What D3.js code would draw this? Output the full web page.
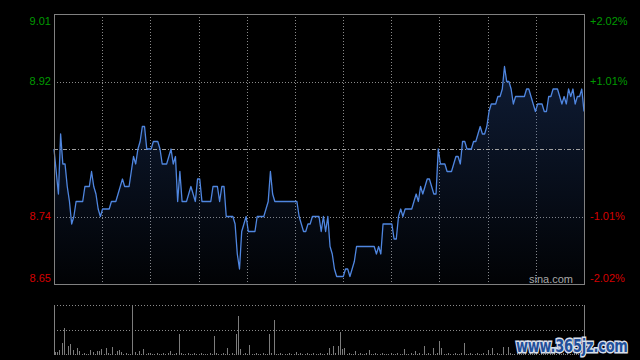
<!DOCTYPE html>
<html><head><meta charset="utf-8">
<script src="https://cdn.jsdelivr.net/npm/d3@7"></script>
<style>html,body{margin:0;padding:0;background:#000;}svg{display:block;}</style>
</head><body>
<script>
// ---- data ----
const prevClose = 8.83;
const priceTicks = [9.01, 8.92, 8.74, 8.65];
const pctLabels = ["+2.02%", "+1.01%", "-1.01%", "-2.02%"];
const prices = [
8.83,8.80,8.77,8.85,8.81,8.81,8.78,8.76,8.73,8.74,
8.76,8.76,8.76,8.76,8.78,8.78,8.78,8.80,8.78,8.77,
8.75,8.74,8.75,8.75,8.75,8.75,8.76,8.76,8.76,8.77,
8.78,8.79,8.78,8.78,8.78,8.80,8.82,8.81,8.83,8.84,
8.86,8.86,8.83,8.83,8.83,8.84,8.84,8.84,8.83,8.81,
8.81,8.81,8.82,8.83,8.81,8.82,8.76,8.80,8.76,8.76,
8.76,8.77,8.78,8.77,8.76,8.79,8.79,8.76,8.76,8.76,
8.76,8.76,8.78,8.78,8.78,8.76,8.78,8.78,8.74,8.74,
8.74,8.74,8.73,8.69,8.67,8.72,8.73,8.74,8.72,8.72,
8.72,8.72,8.74,8.74,8.74,8.74,8.75,8.76,8.80,8.77,
8.76,8.76,8.76,8.76,8.76,8.76,8.76,8.76,8.76,8.76,
8.76,8.74,8.73,8.72,8.72,8.73,8.73,8.74,8.74,8.74,
8.74,8.72,8.74,8.72,8.74,8.70,8.69,8.67,8.66,8.66,
8.66,8.66,8.67,8.67,8.66,8.67,8.68,8.70,8.70,8.70,
8.70,8.70,8.70,8.70,8.70,8.70,8.69,8.70,8.69,8.73,
8.73,8.73,8.73,8.73,8.71,8.71,8.74,8.75,8.74,8.75,
8.75,8.75,8.75,8.76,8.77,8.76,8.78,8.77,8.78,8.79,
8.79,8.78,8.77,8.77,8.83,8.81,8.81,8.81,8.80,8.80,
8.80,8.81,8.82,8.82,8.81,8.84,8.84,8.83,8.83,8.83,
8.84,8.84,8.85,8.86,8.85,8.85,8.86,8.88,8.89,8.89,
8.89,8.90,8.90,8.91,8.94,8.92,8.92,8.91,8.89,8.90,
8.90,8.90,8.90,8.90,8.91,8.91,8.90,8.89,8.88,8.89,
8.89,8.89,8.88,8.88,8.90,8.90,8.91,8.91,8.91,8.90,
8.89,8.90,8.89,8.91,8.90,8.91,8.89,8.90,8.90,8.91,8.88
];
const volumes = [
3,3,5,12,27,1,9,11,5,1,
7,4,1,2,1,1,5,3,1,4,
4,6,1,7,2,1,8,1,4,5,
3,1,2,1,1,50,3,1,4,1,
6,1,2,2,1,1,2,1,1,2,
1,2,4,1,1,2,21,2,1,1,
2,1,1,2,1,1,2,1,1,1,
2,1,19,2,1,1,2,1,7,1,
2,1,21,39,6,1,2,1,10,1,
1,2,1,1,2,1,1,21,2,35,
1,1,2,1,1,1,2,1,1,3,
1,2,1,1,2,1,1,2,1,1,
2,1,1,2,7,1,9,2,9,23,
6,7,1,2,1,1,4,1,2,1,
1,2,5,1,1,2,1,1,2,1,
1,1,2,1,1,2,1,1,6,1,
1,2,1,4,1,2,1,9,1,2,
1,7,1,2,14,7,1,1,2,1,
1,2,1,1,2,12,1,1,2,1,
1,2,1,1,2,1,5,1,7,1,
2,1,1,8,1,8,2,1,1,2,
3,1,1,2,1,4,1,1,2,1,
5,1,2,1,3,1,2,1,6,1,
2,1,4,1,1,2,5,1,1,3,1
];

// ---- layout ----
const W = 640, H = 360;
const L = 54, R = 584, T = 14, B = 284;
const VT = 305, VB = 355;
const svg = d3.select("body").append("svg").attr("width", W).attr("height", H)
  .style("background", "#000");

const x = d3.scaleLinear().domain([0, 240]).range([L, R]);
const y = d3.scaleLinear().domain([8.65, 9.01]).range([B, T]);
const yv = d3.scaleLinear().domain([0, 50]).range([VB, VT]);

const defs = svg.append("defs");
const grad = defs.append("linearGradient").attr("id", "fillg")
  .attr("gradientUnits", "userSpaceOnUse").attr("x1", 0).attr("y1", T).attr("x2", 0).attr("y2", B);
grad.append("stop").attr("offset", 0).attr("stop-color", "rgb(45,85,160)").attr("stop-opacity", 0.4);
grad.append("stop").attr("offset", 1).attr("stop-color", "rgb(45,85,160)").attr("stop-opacity", 0.03);

// vertical grid
const vgrid = d3.range(1, 11).map(k => L + k * (R - L) / 11);
svg.append("g").selectAll("line").data(vgrid).join("line")
  .attr("x1", d => Math.round(d) + 0.5).attr("x2", d => Math.round(d) + 0.5)
  .attr("y1", T).attr("y2", B)
  .attr("stroke", "#8a8a8a").attr("stroke-dasharray", "1,2");

// horizontal grid
svg.append("g").selectAll("line").data([8.92, 8.74]).join("line")
  .attr("x1", L).attr("x2", R)
  .attr("y1", d => Math.round(y(d)) + 0.5).attr("y2", d => Math.round(y(d)) + 0.5)
  .attr("stroke", "#8a8a8a").attr("stroke-dasharray", "1,2");

// area + line
const area = d3.area().x((d, i) => x(i)).y0(B).y1(d => y(d));
svg.append("path").datum(prices).attr("d", area).attr("fill", "url(#fillg)");

// prev close line
svg.append("line").attr("x1", L).attr("x2", R)
  .attr("y1", Math.round(y(prevClose)) + 0.5).attr("y2", Math.round(y(prevClose)) + 0.5)
  .attr("stroke", "#a0a0a0").attr("stroke-dasharray", "4,2,1,2");

const line = d3.line().x((d, i) => x(i)).y(d => y(d));
svg.append("path").datum(prices).attr("d", line)
  .attr("fill", "none").attr("stroke", "#4f86e0").attr("stroke-width", 1.3)
  .attr("stroke-linejoin", "round");

// main frame
svg.append("rect").attr("x", L + 0.5).attr("y", T + 0.5).attr("width", R - L).attr("height", B - T)
  .attr("fill", "none").attr("stroke", "#808080");

// price labels (left)
const colorOf = v => v > prevClose ? "#009a00" : "#d40000";
const clampY = v => Math.max(T + 7, Math.min(B - 6, y(v)));
const leftAxis = d3.axisLeft(y).tickValues(priceTicks).tickSize(0).tickPadding(0)
  .tickFormat(d3.format(".2f"));
const gl = svg.append("g").attr("transform", `translate(${L - 3},0)`).call(leftAxis);
gl.select(".domain").remove();
gl.selectAll(".tick").attr("transform", d => `translate(0,${clampY(d)})`);
gl.selectAll(".tick text").attr("fill", d => colorOf(d))
  .style("font-family", "Arial, 'Liberation Sans', sans-serif").style("font-size", "11px");

// percent labels (right)
const rightAxis = d3.axisRight(y).tickValues(priceTicks).tickSize(0).tickPadding(0)
  .tickFormat((d, i) => pctLabels[i]);
const gr = svg.append("g").attr("transform", `translate(${R + 6},0)`).call(rightAxis);
gr.select(".domain").remove();
gr.selectAll(".tick").attr("transform", d => `translate(0,${clampY(d)})`);
gr.selectAll(".tick text").attr("fill", d => colorOf(d))
  .style("font-family", "Arial, 'Liberation Sans', sans-serif").style("font-size", "11px");

// sina.com
svg.append("text").attr("x", 573).attr("y", 283).attr("text-anchor", "end")
  .attr("fill", "#a8a8a8").style("font-family", "Arial, 'Liberation Sans', sans-serif")
  .style("font-size", "11px").text("sina.com");

// volume panel
svg.append("g").selectAll("line").data([VT, 330]).join("line")
  .attr("x1", L).attr("x2", R).attr("y1", d => d + 0.5).attr("y2", d => d + 0.5)
  .attr("stroke", "#8a8a8a").attr("stroke-dasharray", "1,2");
svg.append("line").attr("x1", L + 0.5).attr("x2", L + 0.5).attr("y1", VT).attr("y2", VB)
  .attr("stroke", "#808080");
svg.append("line").attr("x1", R + 0.5).attr("x2", R + 0.5).attr("y1", VT).attr("y2", VB)
  .attr("stroke", "#808080");
svg.append("g").selectAll("line").data(volumes).join("line")
  .attr("x1", (d, i) => Math.round(x(i)) + 1.5).attr("x2", (d, i) => Math.round(x(i)) + 1.5)
  .attr("y1", VB).attr("y2", d => yv(d))
  .attr("stroke", "#7c7c7c").attr("stroke-width", 1);

// watermark
svg.append("text").attr("transform", "translate(516,352) scale(1,1.4)")
  .attr("fill", "#1f4f9a").attr("stroke", "#d8dfeb").attr("stroke-width", 2.2)
  .attr("paint-order", "stroke")
  .style("font-family", "'DejaVu Sans', sans-serif").style("font-weight", "bold")
  .style("font-size", "13px").style("letter-spacing", "-0.2px").text("www.365jz.com");
</script>
</body></html>
